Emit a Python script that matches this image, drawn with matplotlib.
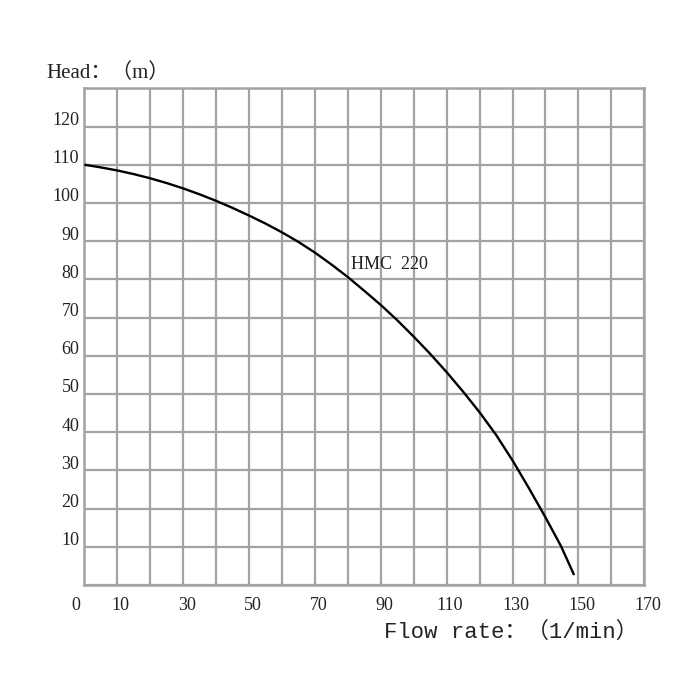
import matplotlib
matplotlib.use("Agg")
import matplotlib.pyplot as plt
import matplotlib.transforms as mtransforms
import numpy as np

# ---- data ----
flow = [0, 5, 10, 15, 20, 25, 30, 35, 40, 45, 50, 55, 60, 65, 70, 75, 80, 85, 90,
        95, 100, 105, 110, 115, 120, 125, 130, 135, 140, 144.7, 148.7]
head = [110, 109.3, 108.5, 107.55, 106.45, 105.2, 103.8, 102.25, 100.55, 98.7, 96.7,
        94.6, 92.3, 89.8, 87.0, 83.9, 80.6, 77.0, 73.3, 69.3, 65.0, 60.5, 55.7,
        50.6, 45.2, 39.3, 32.6, 25.3, 17.7, 10.2, 2.6]
curve_name = "HMC  220"
x_tick_values = [0, 10, 30, 50, 70, 90, 110, 130, 150, 170]
x_tick_labels = ["0", "10", "30", "50", "70", "90", "110", "130", "150", "170"]
y_tick_values = [10, 20, 30, 40, 50, 60, 70, 80, 90, 100, 110, 120]
y_tick_labels = [str(v) for v in y_tick_values]
y_title = "Head：（m）"
x_title = "Flow rate：（1/min）"

GRID = "#a3a3a3"
TXT = "#222222"
SERIF = ["Liberation Serif", "Noto Sans CJK SC"]
MONO = ["Liberation Mono", "Noto Sans CJK SC"]

fig = plt.figure(figsize=(7, 7), dpi=100)
fig.patch.set_facecolor("white")
ax = fig.add_axes([84.3 / 700, 1 - 585 / 700, 560 / 700, (585 - 88.3) / 700])

ax.plot(flow, head, color="black", lw=1.7, solid_capstyle="butt",
        solid_joinstyle="round", zorder=3)

ax.set_xlim(0, 170)
ax.set_ylim(0, 130)

ax.set_xticks(x_tick_values)
ax.set_xticklabels(x_tick_labels)
ax.set_xticks(np.arange(0, 171, 10), minor=True)
ax.set_yticks(y_tick_values)
ax.set_yticklabels(y_tick_labels)
ax.set_yticks(np.arange(0, 131, 10), minor=True)

ax.grid(True, which="both", color=GRID, lw=1.6)
ax.set_axisbelow(True)
for sp in ax.spines.values():
    sp.set_color(GRID)
    sp.set_linewidth(1.8)

ax.tick_params(which="both", length=0)
ax.tick_params(axis="x", pad=9)
ax.tick_params(axis="y", pad=3.6)

for lab in ax.get_xticklabels():
    lab.set_fontfamily(SERIF)
    lab.set_fontsize(13)
    lab.set_color(TXT)
    dx = -8 if lab.get_text() == "0" else 3.5
    lab.set_transform(lab.get_transform() + mtransforms.ScaledTranslation(dx / 100, 0, fig.dpi_scale_trans))

for lab in ax.get_yticklabels():
    lab.set_fontfamily(SERIF)
    lab.set_fontsize(13)
    lab.set_color(TXT)
    lab.set_verticalalignment("baseline")
    lab.set_transform(lab.get_transform() + mtransforms.ScaledTranslation(0, 1.5 / 100, fig.dpi_scale_trans))

ax.text(81, 84, curve_name, fontsize=13, family=SERIF, color=TXT, ha="left", va="center")

fig.text(46 / 700, 1 - 73 / 700, y_title, fontsize=15, family=SERIF, color=TXT, ha="left", va="center")
fig.text(511 / 700, 1 - 632 / 700, x_title, fontsize=16, family=MONO, color=TXT, ha="center", va="center")

fig.savefig("out.png", dpi=100, facecolor="white")
